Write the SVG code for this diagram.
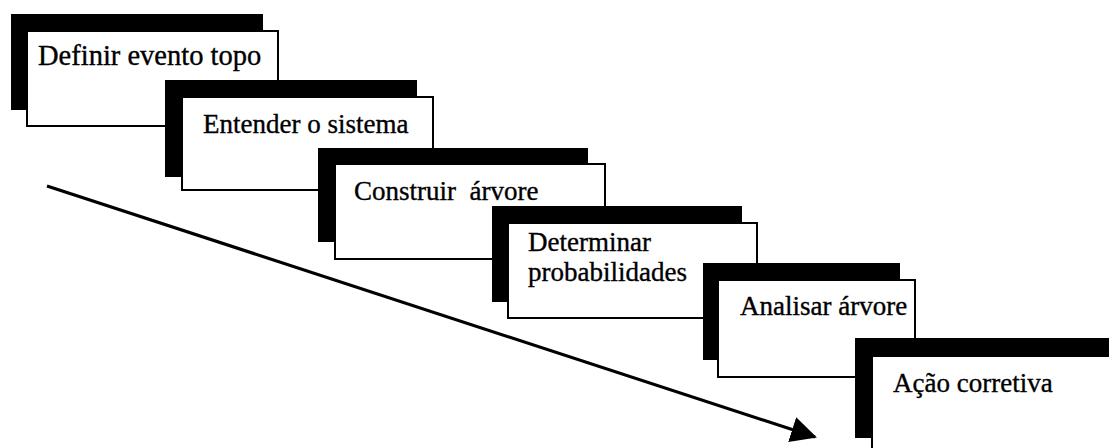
<svg xmlns="http://www.w3.org/2000/svg" width="1109" height="448" viewBox="0 0 1109 448">
  <defs>
    <style>
      .shadow { fill: #000; }
      .card { fill: #fff; stroke: #000; stroke-width: 2; }
      .label { font-family: "Liberation Serif", "Times New Roman", serif; font-size: 27px; fill: #000; stroke: #000; stroke-width: 0.35; }
      .flow { stroke: #000; stroke-width: 3.2; fill: none; }
    </style>
    <marker id="arrowHead" markerUnits="userSpaceOnUse" markerWidth="26" markerHeight="26" viewBox="0 0 26 26" refX="24" refY="13" orient="auto">
      <path d="M0,0 L26,13 L0,26 Z" fill="#000"/>
    </marker>
  </defs>
  <rect width="1109" height="448" fill="#fff"/>

  <!-- process flow arrow -->
  <g id="connectors">
    <line class="flow" x1="47" y1="186" x2="815" y2="437" marker-end="url(#arrowHead)"/>
  </g>

  <g id="step1">
    <rect class="shadow" x="11" y="14" width="252" height="96"/>
    <rect class="card" x="27" y="31" width="251" height="95"/>
    <text class="label" x="38" y="65" style="font-size:28.5px">Definir evento topo</text>
  </g>

  <g id="step2">
    <rect class="shadow" x="165" y="80" width="252" height="97"/>
    <rect class="card" x="182" y="97" width="251" height="93"/>
    <text class="label" x="203" y="133">Entender o sistema</text>
  </g>

  <g id="step3">
    <rect class="shadow" x="318" y="148" width="270" height="94"/>
    <rect class="card" x="335" y="164" width="270" height="95"/>
    <text class="label" x="354" y="200" xml:space="preserve">Construir  árvore</text>
  </g>

  <g id="step4">
    <rect class="shadow" x="492" y="206" width="250" height="96"/>
    <rect class="card" x="508" y="223" width="249" height="95"/>
    <text class="label" x="528" y="251">Determinar</text>
    <text class="label" x="528" y="281">probabilidades</text>
  </g>

  <g id="step5">
    <rect class="shadow" x="703" y="263" width="197" height="97"/>
    <rect class="card" x="718" y="280" width="197" height="97"/>
    <text class="label" x="740" y="315">Analisar árvore</text>
  </g>

  <g id="step6">
    <rect class="shadow" x="855" y="338" width="260" height="100"/>
    <rect class="card" x="872" y="356" width="250" height="100"/>
    <text class="label" x="893" y="392">Ação corretiva</text>
  </g>
</svg>
